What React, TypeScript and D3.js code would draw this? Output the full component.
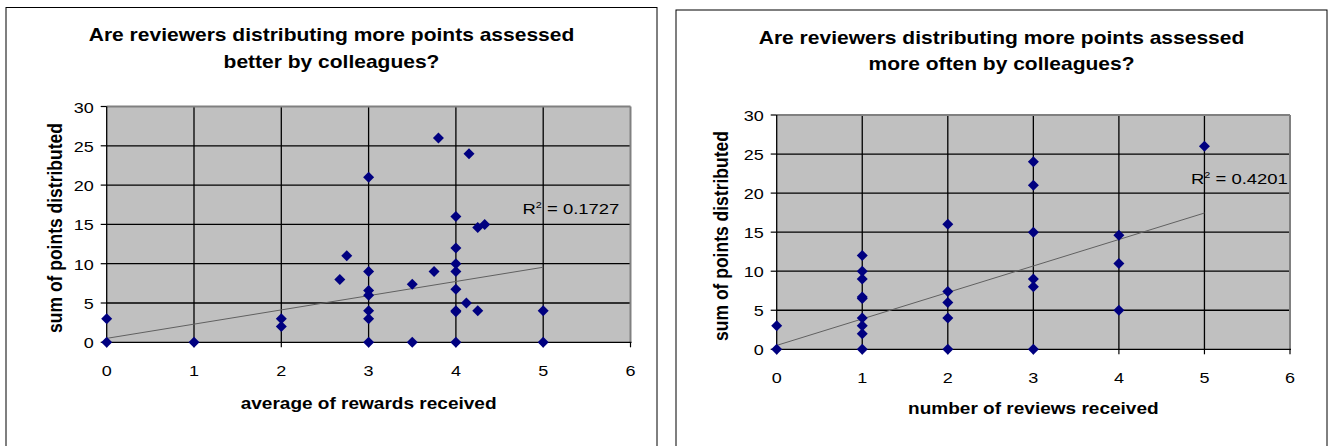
import React from 'react';
import * as d3 from 'd3';

const TITLE_LEFT = ['Are reviewers distributing more points assessed', 'better by colleagues?'];
const TITLE_RIGHT = ['Are reviewers distributing more points assessed', 'more often by colleagues?'];
const X_LABEL_LEFT = 'average of rewards received';
const X_LABEL_RIGHT = 'number of reviews received';
const Y_LABEL = 'sum of points distributed';
const X_TICKS = [0, 1, 2, 3, 4, 5, 6];
const Y_TICKS = [0, 5, 10, 15, 20, 25, 30];

// left chart: average of rewards received vs sum of points distributed
const LEFT_X = [0, 0, 1, 2, 2, 2.67, 2.75, 3, 3, 3, 3, 3, 3, 3, 3.8, 4.15, 4, 4.25, 4.33, 4, 4, 4, 3.75, 3.5, 4, 4.12, 4, 4, 4.25, 5, 3.5, 4, 5];
const LEFT_Y = [3, 0, 0, 3, 2, 8, 11, 21, 9, 6.6, 6, 4, 3, 0, 26, 24, 16, 14.6, 15, 12, 10, 9, 9, 7.4, 6.75, 5, 4, 3.9, 4, 4, 0, 0, 0];
const LEFT_R2 = '0.1727';
const LEFT_TREND = { intercept: 0.5, slope: 1.81, from: 0, to: 5 };

// right chart: number of reviews received vs sum of points distributed
const RIGHT_X = [0, 0, 1, 1, 1, 1, 1, 1, 1, 1, 1, 2, 2, 2, 2, 2, 3, 3, 3, 3, 3, 3, 4, 4, 4, 5];
const RIGHT_Y = [3, 0, 12, 10, 9, 6.7, 6.5, 4, 3, 2, 0, 16, 7.4, 6, 4, 0, 24, 21, 15, 9, 8, 0, 14.6, 11, 5, 26];
const RIGHT_R2 = '0.4201';
const RIGHT_TREND = { intercept: 0.5, slope: 3.39, from: 0, to: 5 };

const FONT = '"Liberation Sans", Arial, sans-serif';

function ST({ x, y, sx = 1.15, anchor = 'middle', size = 15, weight = 'normal', rotate = false, children }: any) {
  return (
    <text
      transform={`translate(${x},${y}) scale(${sx},1)${rotate ? ' rotate(-90)' : ''}`}
      textAnchor={anchor}
      fontSize={size}
      fontWeight={weight}
      fontFamily={FONT}
      fill="#000"
    >
      {children}
    </text>
  );
}

function Panel({ frame, plot, title, titleY, xLabel, xLabelY, yLabelX, yLabelY, xs, ys, r2, r2Pos, trend }: any) {
  const x = d3.scaleLinear().domain([0, 6]).range([plot.left, plot.right]);
  const y = d3.scaleLinear().domain([0, 30]).range([plot.bottom, plot.top]);
  const cx = (frame.left + frame.right) / 2;
  const line = d3.line<number>().x((d) => x(d)).y((d) => y(trend.intercept + trend.slope * d));
  const diamond = 'M0,-5.5L5.5,0L0,5.5L-5.5,0Z';
  return (
    <g>
      <rect x={frame.left} y={frame.top} width={frame.right - frame.left} height={frame.bottom - frame.top} fill="#fff" stroke="#000" strokeWidth={1} />
      <ST x={cx} y={titleY[0]} sx={1.13} size={18.6} weight="bold">{title[0]}</ST>
      <ST x={cx} y={titleY[1]} sx={1.13} size={18.6} weight="bold">{title[1]}</ST>
      <rect x={plot.left} y={plot.top} width={plot.right - plot.left} height={plot.bottom - plot.top} fill="#c0c0c0" />
      {Y_TICKS.filter((t) => t > 0 && t < 30).map((t) => (
        <line key={'h' + t} x1={plot.left} x2={plot.right} y1={y(t)} y2={y(t)} stroke="#000" strokeWidth={1.3} />
      ))}
      {X_TICKS.filter((t) => t > 0 && t < 6).map((t) => (
        <line key={'v' + t} x1={x(t)} x2={x(t)} y1={plot.top} y2={plot.bottom} stroke="#000" strokeWidth={1.3} />
      ))}
      <line x1={plot.left} x2={plot.right} y1={plot.top} y2={plot.top} stroke="#808080" strokeWidth={2} />
      <line x1={plot.right} x2={plot.right} y1={plot.top} y2={plot.bottom} stroke="#808080" strokeWidth={2} />
      <line x1={plot.left} x2={plot.right + 1} y1={plot.bottom} y2={plot.bottom} stroke="#000" strokeWidth={1.3} />
      <line x1={plot.left} x2={plot.left} y1={plot.top} y2={plot.bottom} stroke="#000" strokeWidth={1.3} />
      {Y_TICKS.map((t) => (
        <g key={'yt' + t}>
          <line x1={plot.left - 6} x2={plot.left} y1={y(t)} y2={y(t)} stroke="#000" strokeWidth={1.2} />
          <ST x={plot.left - 13} y={y(t) + 6} anchor="end" sx={1.17} size={15.4}>{t}</ST>
        </g>
      ))}
      {X_TICKS.map((t) => (
        <g key={'xt' + t}>
          <line x1={x(t)} x2={x(t)} y1={plot.bottom} y2={plot.bottom + 5} stroke="#000" strokeWidth={1.2} />
          <ST x={x(t)} y={plot.bottom + 34} sx={1.17} size={15.4}>{t}</ST>
        </g>
      ))}
      <path d={line([trend.from, trend.to]) || ''} stroke="#606060" strokeWidth={1} fill="none" />
      {xs.map((v: number, i: number) => (
        <path key={'p' + i} d={diamond} transform={`translate(${x(v)},${y(ys[i])})`} fill="#000080" />
      ))}
      <text transform={`translate(${r2Pos[0]},${r2Pos[1]}) scale(1.2,1)`} fontSize={15.4} fontFamily={FONT} fill="#000">
        <tspan>R</tspan>
        <tspan fontSize={9} dy={-6}>2</tspan>
        <tspan dy={6}>{' = ' + r2}</tspan>
      </text>
      <ST x={(plot.left + plot.right) / 2} y={xLabelY} sx={1.12} size={17} weight="bold">{xLabel}</ST>
      <ST x={yLabelX} y={yLabelY} sx={1.12} size={17.5} weight="bold" rotate>{Y_LABEL}</ST>
    </g>
  );
}

export default function App() {
  return (
    <svg width={1330} height={446} style={{ position: 'absolute', left: 0, top: 0, background: '#fff' }}>
      <Panel
        frame={{ left: 6, top: 7.5, right: 657, bottom: 460 }}
        plot={{ left: 106.7, right: 630.5, top: 106.5, bottom: 342.3 }}
        title={TITLE_LEFT}
        titleY={[41, 68]}
        xLabel={X_LABEL_LEFT}
        xLabelY={409}
        yLabelX={62}
        yLabelY={228}
        xs={LEFT_X}
        ys={LEFT_Y}
        r2={LEFT_R2}
        r2Pos={[522.5, 214]}
        trend={LEFT_TREND}
      />
      <Panel
        frame={{ left: 676, top: 10, right: 1327, bottom: 460 }}
        plot={{ left: 776.7, right: 1290, top: 115, bottom: 349.3 }}
        title={TITLE_RIGHT}
        titleY={[43.5, 70]}
        xLabel={X_LABEL_RIGHT}
        xLabelY={414}
        yLabelX={728}
        yLabelY={236}
        xs={RIGHT_X}
        ys={RIGHT_Y}
        r2={RIGHT_R2}
        r2Pos={[1191, 184]}
        trend={RIGHT_TREND}
      />
    </svg>
  );
}
